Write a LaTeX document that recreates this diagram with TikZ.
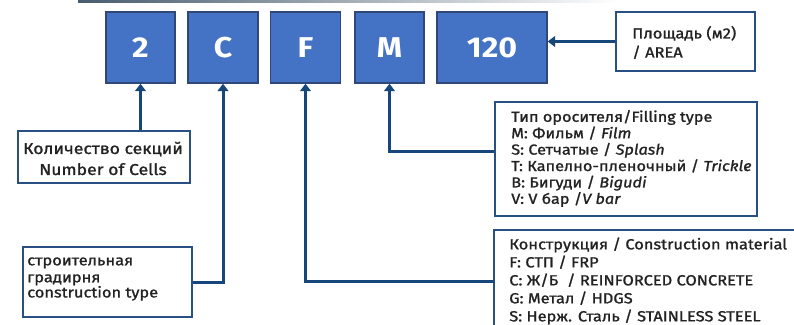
\documentclass[tikz,border=0pt]{standalone}
\usepackage{fontspec}
\setmainfont{Fira Sans}[FakeStretch=1.12]
\newfontfamily\lblfont{Fira Sans}[FakeStretch=1.12, FakeBold=1.2]
\usetikzlibrary{arrows.meta}
\definecolor{boxfill}{RGB}{68,114,196}
\definecolor{boxedge}{RGB}{47,72,120}
\definecolor{lbledge}{RGB}{40,80,130}
\definecolor{connc}{RGB}{22,70,122}
\definecolor{barc}{RGB}{72,92,110}
\definecolor{txtc}{RGB}{34,34,34}
\def\px{0.75pt}
\tikzset{
  codebox/.style={draw=boxedge, line width=1.5*\px, fill=boxfill, text=white,
    font=\fontsize{21.5}{24}\selectfont\bfseries, minimum height=71*\px, inner sep=0pt},
  lblbox/.style={draw=lbledge, line width=1.5*\px, fill=white, inner sep=0pt},
  lbltext/.style={text=txtc, inner sep=0pt, font=\lblfont\fontsize{10.9}{12.3}\selectfont},
  conn/.style={draw=connc, line width=3*\px, -{Triangle[width=8pt,length=5.5pt]}},
}
\begin{document}
\begin{tikzpicture}[x=0.75pt,y=-0.75pt]
\useasboundingbox (0,0) rectangle (794,325);
\begin{scope}
\clip (0,0) rectangle (794,325);
\shade[left color=barc, right color=white, draw=none] (78,0) rectangle (620,2.5);
% code boxes
\node[codebox, minimum width=69*\px] (b2) at (140.5,47.5) {2};
\node[codebox, minimum width=70*\px] (bC) at (223,47.5) {C};
\node[codebox, minimum width=70*\px] (bF) at (305.5,47.5) {F};
\node[codebox, minimum width=69*\px] (bM) at (389.5,47.5) {M};
\node[codebox, minimum width=110*\px] (b120) at (492,47.5) {120};
% label boxes
\node[lblbox, minimum width=172*\px, minimum height=52*\px] (cells) at (104,157) {};
\node[lbltext, align=center, font=\lblfont\fontsize{11.8}{15.75}\selectfont] at (103,158.5) {Количество секций\\Number of Cells};
\node[lblbox, minimum width=169*\px, minimum height=70*\px] (ctype) at (107.5,282) {};
\node[lbltext, align=left, anchor=west, font=\lblfont\fontsize{11}{11.4}\selectfont] at (27,279) {строительная\\[1.3pt]градирня\\construction type};
\node[lblbox, minimum width=262*\px, minimum height=114*\px] (fill) at (626,159) {};
\node[lbltext, align=left, anchor=west] at (511,158.5) {Тип оросителя/Filling type\\M: Фильм / \textit{Film}\\S: Сетчатые / \textit{Splash}\\T: Капелно-пленочный / \textit{Trickle}\\B: Бигуди / \textit{Bigudi}\\V: V бар /\textit{V bar}};
\node[lblbox, minimum width=139*\px, minimum height=59*\px] (area) at (685.5,41.5) {};
\node[lbltext, align=left, anchor=west, font=\lblfont\fontsize{11}{14.25}\selectfont] at (632,42.5) {Площадь (м2)\\/ AREA};
\node[lblbox, minimum width=406*\px, minimum height=170*\px] (mat) at (697,315) {};
\node[lbltext, align=left, anchor=west, font=\lblfont\fontsize{11}{13.5}\selectfont] at (509,281) {Конструкция / Construction material\\F: СТП / FRP\\C: Ж/Б \ / REINFORCED CONCRETE\\G: Метал / HDGS\\S: Нерж. Сталь / STAINLESS STEEL};
\coordinate (matin) at (494,281);
% connectors
\draw[conn] (cells.north -| b2.south) -- (b2.south);
\draw[conn] (ctype.east) -| (bC.south);
\draw[conn] (matin) -| (bF.south);
\draw[conn] ([yshift=6pt]fill.west) -| (bM.south);
\draw[conn] (area.west) -- (area.west -| b120.east);
\end{scope}
\end{tikzpicture}
\end{document}
